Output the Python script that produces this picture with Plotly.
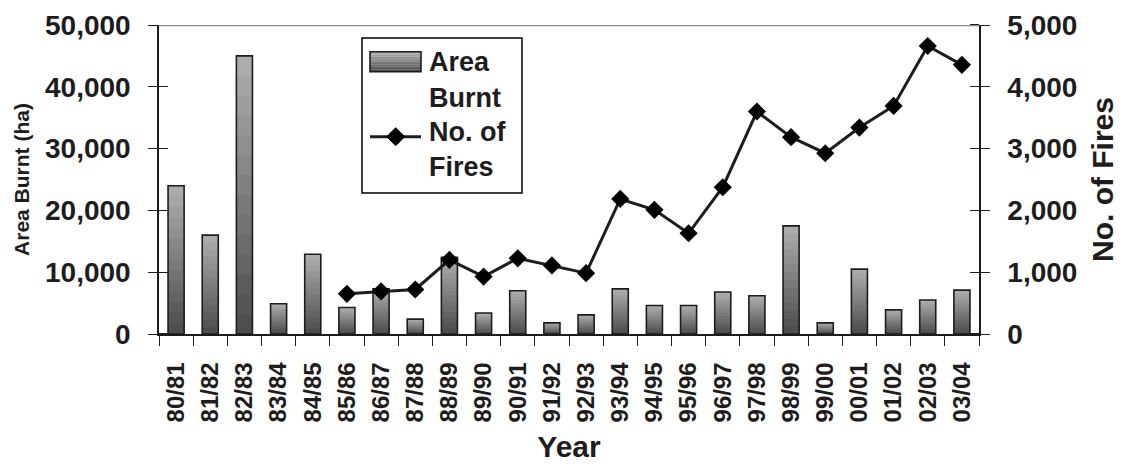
import plotly.graph_objects as go

# Fire seasons
seasons = ["80/81", "81/82", "82/83", "83/84", "84/85", "85/86", "86/87", "87/88",
           "88/89", "89/90", "90/91", "91/92", "92/93", "93/94", "94/95", "95/96",
           "96/97", "97/98", "98/99", "99/00", "00/01", "01/02", "02/03", "03/04"]

# Area burnt per season (ha)
area_burnt = [24000, 16000, 45000, 4900, 12900, 4300, 7300, 2400,
              12400, 3400, 7000, 1800, 3100, 7300, 4600, 4600,
              6800, 6200, 17500, 1800, 10500, 3900, 5500, 7100]

# Number of fires per season (records start in 85/86)
fire_seasons = ["85/86", "86/87", "87/88", "88/89", "89/90", "90/91", "91/92",
                "92/93", "93/94", "94/95", "95/96", "96/97", "97/98", "98/99",
                "99/00", "00/01", "01/02", "02/03", "03/04"]
num_fires = [650, 690, 720, 1200, 930, 1225, 1110, 985, 2185, 2010, 1630,
             2375, 3600, 3185, 2925, 3340, 3690, 4660, 4355]

legend_labels = [["Area", "Burnt"], ["No. of", "Fires"]]

INK = "#1e1c1c"
BOLD = dict(family="Liberation Sans", color=INK, weight="bold")
TICK_FONT = dict(BOLD, size=28)
BAR_W = 0.47

# plot-area geometry in pixels (used for the boxed key)
W, H = 1125, 464
ML, MR, MT, MB = 159, 146, 25, 130
PW, PH = W - ML - MR, H - MT - MB


def px(x):
    return (x - ML) / PW


def py(y):
    return (H - MB - y) / PH


fig = go.Figure()

# Bars shaded light at the top to dark at the base: in-place layers
n_layers = 14
light, dark = (172, 172, 172), (78, 78, 78)


def shade(t):
    return "rgb(%d,%d,%d)" % tuple(round(light[i] + (dark[i] - light[i]) * t) for i in range(3))


for k in range(n_layers):
    frac = (n_layers - k) / n_layers
    fig.add_trace(go.Bar(
        x=seasons, y=[v * frac for v in area_burnt], width=BAR_W,
        marker=dict(color=shade(k / (n_layers - 1)), line=dict(width=0)),
        name="Area Burnt", showlegend=False, hoverinfo="skip",
    ))

# Bar outlines
fig.add_trace(go.Bar(
    x=seasons, y=area_burnt, width=BAR_W, name="Area Burnt",
    marker=dict(color="rgba(0,0,0,0)", line=dict(color=INK, width=1.6)),
    showlegend=False,
))

# Number of fires on the secondary axis
fig.add_trace(go.Scatter(
    x=fire_seasons, y=num_fires, yaxis="y2", name="No. of Fires",
    mode="lines+markers", showlegend=False,
    line=dict(color=INK, width=3),
    marker=dict(symbol="diamond", size=14, color="#000000"),
))

# Boxed key drawn in paper coordinates
shapes = [
    dict(type="line", xref="paper", yref="y", x0=px(150), x1=1,
         y0=50000, y1=50000, line=dict(color="#8c8c8c", width=2.5), layer="below"),
    dict(type="rect", xref="paper", yref="paper", x0=px(362), x1=px(522),
         y0=py(193), y1=py(38), line=dict(color="#000000", width=1.5),
         fillcolor="white", layer="above"),
]
sw_top, sw_bot, n_bands = 51.7, 71.7, 8
for b in range(n_bands):
    y0 = sw_top + (sw_bot - sw_top) * b / n_bands
    y1 = sw_top + (sw_bot - sw_top) * (b + 1) / n_bands
    shapes.append(dict(type="rect", xref="paper", yref="paper", x0=px(370), x1=px(421),
                       y0=py(y1), y1=py(y0), line=dict(width=0),
                       fillcolor=shade(b / (n_bands - 1)), layer="above"))
shapes += [
    dict(type="rect", xref="paper", yref="paper", x0=px(370), x1=px(421),
         y0=py(sw_bot), y1=py(sw_top), line=dict(color=INK, width=1.6), layer="above"),
    dict(type="line", xref="paper", yref="paper", x0=px(370), x1=px(421),
         y0=py(136.7), y1=py(136.7), line=dict(color=INK, width=3), layer="above"),
    dict(type="path", xref="paper", yref="paper", xsizemode="pixel", ysizemode="pixel",
         xanchor=px(395.7), yanchor=py(136.7), path="M -9 0 L 0 9 L 9 0 L 0 -9 Z",
         fillcolor="#000000", line=dict(color="#000000", width=1), layer="above"),
]

annotations = []
for (first, second), y_first in zip(legend_labels, [62.5, 132.0]):
    for text, yc in ((first, y_first), (second, y_first + 35)):
        annotations.append(dict(
            text=text, xref="paper", yref="paper", x=px(427), y=py(yc),
            xanchor="left", yanchor="middle", showarrow=False,
            font=dict(BOLD, size=27),
        ))

fig.update_layout(
    width=W, height=H,
    margin=dict(l=ML, r=MR, t=MT, b=MB),
    paper_bgcolor="white", plot_bgcolor="white",
    barmode="overlay",
    showlegend=False,
    shapes=shapes,
    annotations=annotations,
    xaxis=dict(
        type="category", categoryorder="array", categoryarray=seasons,
        range=[-0.5, len(seasons) - 0.5], automargin=False,
        showline=True, linecolor=INK, linewidth=1.5,
        ticks="outside", tickson="boundaries", ticklen=10, tickwidth=1.2,
        tickcolor=INK, tickangle=-90, ticklabelstandoff=17,
        tickfont=dict(BOLD, size=24),
        showgrid=False, zeroline=False,
        title=dict(text="Year", standoff=15, font=dict(BOLD, size=30)),
    ),
    yaxis=dict(
        range=[0, 50000], tickvals=[0, 10000, 20000, 30000, 40000, 50000],
        tickformat=",d", automargin=False,
        showline=True, linecolor=INK, linewidth=1.5,
        ticks="outside", ticklen=9, tickwidth=1.2, tickcolor=INK,
        minor=dict(tickvals=[1, 10001, 20001, 30001, 40001], ticks="inside",
                   ticklen=9, tickwidth=1.2, tickcolor=INK),
        ticklabelstandoff=12, tickfont=TICK_FONT,
        showgrid=False, zeroline=False,
        title=dict(text="Area Burnt (ha)", standoff=10, font=dict(BOLD, size=21)),
    ),
    yaxis2=dict(
        range=[0, 5000], tickvals=[0, 1000, 2000, 3000, 4000, 5000],
        tickformat=",d", overlaying="y", side="right", automargin=False,
        showline=True, linecolor=INK, linewidth=1.5,
        ticks="outside", ticklen=9, tickwidth=1.2, tickcolor=INK,
        minor=dict(tickvals=[0.1, 1000.1, 2000.1, 3000.1, 4000.1, 5000.1], ticks="inside",
                   ticklen=9, tickwidth=1.2, tickcolor=INK),
        ticklabelstandoff=12, tickfont=TICK_FONT,
        showgrid=False, zeroline=False,
        title=dict(text="No. of Fires", standoff=16, font=dict(BOLD, size=30)),
    ),
)

fig.write_html("out.html")
